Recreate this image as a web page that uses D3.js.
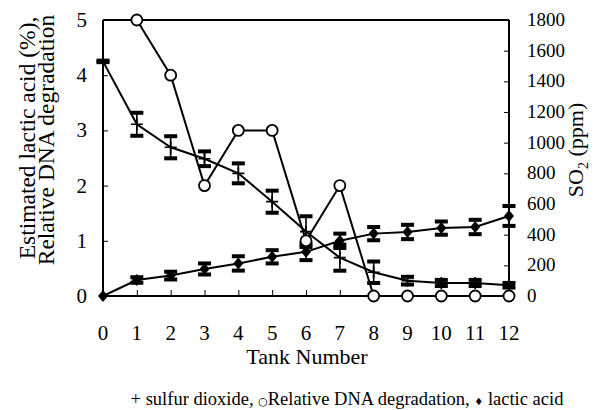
<!DOCTYPE html>
<html><head><meta charset="utf-8">
<script src="https://cdn.jsdelivr.net/npm/d3@7"></script>
<style>body{margin:0;background:#fff}svg{display:block}</style>
</head><body><svg id="c" width="602" height="410"></svg>
<script>
const tanks = [0,1,2,3,4,5,6,7,8,9,10,11,12];
const xTickLabels = ["0","1","2","3","4","5","6","7","8","9","10","11","12"];
const leftTicks = [0,1,2,3,4,5];
const rightTicks = [0,200,400,600,800,1000,1200,1400,1600,1800];
const so2 = [1530,1120,970,895,800,615,420,250,155,100,85,85,70];
const so2Err = [5,75,72,48,65,72,100,85,70,25,20,20,15];
const dnaTanks = [1,2,3,4,5,6,7,8,9,10,11,12];
const dna = [5,4,2,3,3,1,2,0,0,0,0,0];
const lactic = [0,0.29,0.37,0.49,0.59,0.71,0.80,1.0,1.13,1.16,1.23,1.25,1.45];
const lacticErr = [0,0.05,0.07,0.1,0.13,0.12,0.15,0.13,0.12,0.13,0.12,0.13,0.18];

const SERIF = "'Liberation Serif', 'DejaVu Serif', serif";
const svg = d3.select("#c").attr("font-family", SERIF);
const L=103, R=509, T=20, B=296;
const x = d3.scaleLinear().domain([0,12]).range([L,R]);
const yL = d3.scaleLinear().domain([0,5]).range([B,T]);
const yR = d3.scaleLinear().domain([0,1800]).range([B,T]);

svg.append("line").attr("x1",L).attr("x2",R).attr("y1",T).attr("y2",T).attr("stroke","#000").attr("stroke-width",2);

const ax = svg.append("g").attr("transform",`translate(0,${B})`)
  .call(d3.axisBottom(x).tickValues(tanks.slice(1,12)).tickSize(-6).tickFormat(""));
const ay = svg.append("g").attr("transform",`translate(${L},0)`)
  .call(d3.axisLeft(yL).tickValues(leftTicks).tickSize(-5).tickFormat(""));
const ar = svg.append("g").attr("transform",`translate(${R},0)`)
  .call(d3.axisRight(yR).tickValues(rightTicks).tickSize(-5).tickFormat(""));
[ax,ay,ar].forEach(g=>{g.select(".domain").attr("stroke","#000").attr("stroke-width",2);g.selectAll(".tick line").attr("stroke","#000").attr("stroke-width",1);});
ax.select(".domain").attr("d",`M${L},0H${R}`);
ay.select(".domain").attr("d",`M0,${B}V${T}`);
ar.select(".domain").attr("d",`M0,${B}V${T}`);

function txt(g){return g.append("text").attr("font-family",SERIF).attr("fill","#000");}

const gx = svg.append("g");
tanks.forEach((d,i)=>txt(gx).attr("x",x(d)).attr("y",340).attr("text-anchor","middle").attr("font-size",21).text(xTickLabels[i]));
const gl = svg.append("g");
leftTicks.forEach(d=>txt(gl).attr("x",87).attr("y",yL(d)+7).attr("text-anchor","end").attr("font-size",21).text(d));
const gr = svg.append("g");
rightTicks.forEach(d=>txt(gr).attr("x",527).attr("y",yR(d)+6).attr("text-anchor","start").attr("font-size",19).text(d));

txt(svg).attr("x",(L+R)/2+1).attr("y",364).attr("text-anchor","middle").attr("font-size",22).text("Tank Number");
txt(svg).attr("transform","translate(35,138) rotate(-90)").attr("text-anchor","middle").attr("font-size",23.5).text("Estimated lactic acid (%),");
txt(svg).attr("transform","translate(54,140) rotate(-90)").attr("text-anchor","middle").attr("font-size",23.5).text("Relative DNA degradation");
const rt = txt(svg).attr("transform","translate(583,150) rotate(-90)").attr("text-anchor","middle").attr("font-size",22);
rt.append("tspan").text("SO");
rt.append("tspan").attr("font-size",14).attr("dy",5).text("2");
rt.append("tspan").attr("dy",-5).text(" (ppm)");

const lg = txt(svg).attr("x",347).attr("y",405).attr("text-anchor","middle").attr("font-size",18.5);
lg.append("tspan").text("+ sulfur dioxide,  ");
lg.append("tspan").attr("font-size",11).attr("font-family","DejaVu Sans").text("○");
lg.append("tspan").text("Relative DNA degradation, ");
lg.append("tspan").attr("font-size",10).attr("font-family","DejaVu Sans").text("♦");
lg.append("tspan").text(" lactic acid");

const lineSO2 = d3.line().x((d,i)=>x(tanks[i])).y(d=>yR(d));
const lineDNA = d3.line().x((d,i)=>x(dnaTanks[i])).y(d=>yL(d));
const lineLac = d3.line().x((d,i)=>x(tanks[i])).y(d=>yL(d));
svg.append("path").attr("d",lineSO2(so2)).attr("fill","none").attr("stroke","#000").attr("stroke-width",2);
svg.append("path").attr("d",lineDNA(dna)).attr("fill","none").attr("stroke","#000").attr("stroke-width",2);
svg.append("path").attr("d",lineLac(lactic)).attr("fill","none").attr("stroke","#000").attr("stroke-width",2);

function errBars(vals, errs, scale, capW){
  const g = svg.append("g");
  vals.forEach((v,i)=>{
    if(errs[i]<=0) return;
    const cx = x(tanks[i]), y1 = scale(v+errs[i]), y2 = scale(v-errs[i]);
    g.append("line").attr("x1",cx).attr("x2",cx).attr("y1",y1).attr("y2",y2).attr("stroke","#000").attr("stroke-width",1.6);
    [y1,y2].forEach(yy=>g.append("rect").attr("x",cx-capW/2).attr("y",yy-2).attr("width",capW).attr("height",4).attr("fill","#000"));
  });
}
errBars(so2, so2Err, yR, 13);
errBars(lactic, lacticErr, yL, 13);

svg.append("g").selectAll("path").data(so2).join("path")
  .attr("d",(d,i)=>{const cx=x(tanks[i]),cy=yR(d);return `M${cx-6},${cy}H${cx+6}M${cx},${cy-6}V${cy+6}`;})
  .attr("stroke","#000").attr("stroke-width",1.7);
svg.append("g").selectAll("circle").data(dna).join("circle")
  .attr("cx",(d,i)=>x(dnaTanks[i])).attr("cy",d=>yL(d)).attr("r",5.5)
  .attr("fill","#fff").attr("stroke","#000").attr("stroke-width",1.8);
svg.append("g").selectAll("path").data(lactic).join("path")
  .attr("d",(d,i)=>{const cx=x(tanks[i]),cy=yL(d);return `M${cx},${cy-6}L${cx+5},${cy}L${cx},${cy+6}L${cx-5},${cy}Z`;})
  .attr("fill","#000");
</script></body></html>
